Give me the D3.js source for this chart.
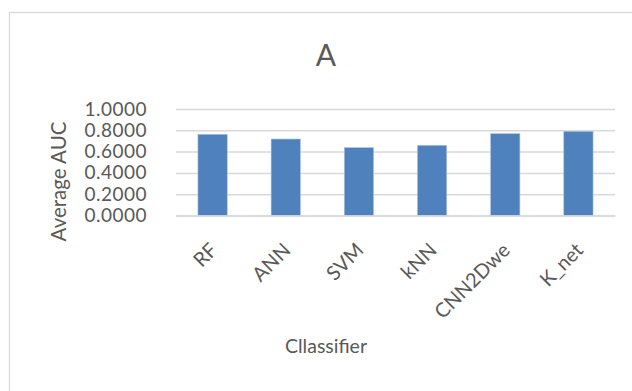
<!DOCTYPE html>
<html>
<head>
<meta charset="utf-8">
<script src="https://cdn.jsdelivr.net/npm/d3@7"></script>
<style>
  html, body { margin: 0; padding: 0; background: #fff; }
  svg { display: block; }
  text { font-family: Lato, "Open Sans", sans-serif; fill: #595959; }
</style>
</head>
<body>
<svg id="chart" width="632" height="391"></svg>
<script>
// Average AUC per classifier
const classifiers = ["RF", "ANN", "SVM", "kNN", "CNN2Dwe", "K_net"];
const avgAUC = [0.762, 0.718, 0.637, 0.659, 0.768, 0.790];
const yTicks = [0, 0.2, 0.4, 0.6, 0.8, 1.0];
const chartTitle = "A";
const xTitle = "Cllassifier";
const yTitle = "Average AUC";

const svg = d3.select("#chart");
const W = 632, H = 391;

// chart frame (continues past the right and bottom edges)
svg.append("rect")
  .attr("x", 9.5).attr("y", 12.5)
  .attr("width", W + 20).attr("height", H + 20)
  .attr("fill", "#fff")
  .attr("stroke", "#d9d9d9").attr("stroke-width", 1.3);

const plot = { left: 176, right: 615, top: 109, bottom: 215.5 };

const x = d3.scaleBand()
  .domain(classifiers)
  .range([plot.left, plot.right])
  .paddingInner(0.6)
  .paddingOuter(0.3);

const y = d3.scaleLinear()
  .domain([0, 1])
  .range([plot.bottom, plot.top]);

// gridlines and value labels
const yAxis = d3.axisLeft(y)
  .tickValues(yTicks)
  .tickSize(-(plot.right - plot.left))
  .tickPadding(29)
  .tickFormat(d3.format(".4f"));

const gy = svg.append("g")
  .attr("transform", `translate(${plot.left},0)`)
  .call(yAxis);
gy.select(".domain").remove();
gy.selectAll(".tick line")
  .attr("stroke", "#d9d9d9").attr("stroke-width", 1.5);
gy.selectAll(".tick text")
  .attr("font-size", 19)
  .attr("letter-spacing", "0.5px")
  .attr("fill", "#595959")
  .style("font-family", "Lato, sans-serif");

// bars
svg.append("g").selectAll("rect")
  .data(classifiers)
  .join("rect")
  .attr("x", d => x(d))
  .attr("width", x.bandwidth())
  .attr("y", (d, i) => y(avgAUC[i]))
  .attr("height", (d, i) => y(0) - y(avgAUC[i]))
  .attr("fill", "#4f81bd")
  .attr("stroke", "#a9c1e0").attr("stroke-width", 0.6);

// category axis
const xAxis = d3.axisBottom(x).tickSize(0).tickPadding(0);
const gx = svg.append("g")
  .attr("transform", `translate(0,${plot.bottom})`)
  .call(xAxis);
gx.select(".domain")
  .attr("stroke", "#d9d9d9").attr("stroke-width", 1.5);
gx.selectAll(".tick text")
  .attr("font-size", 20)
  .attr("fill", "#595959")
  .style("font-family", "Lato, sans-serif")
  .attr("text-anchor", "end")
  .attr("dy", "0.35em")
  .attr("transform", "translate(1,31) rotate(-45)");

// titles
svg.append("text")
  .attr("x", 326).attr("y", 65.5)
  .attr("text-anchor", "middle")
  .attr("font-size", 30)
  .text(chartTitle);

svg.append("text")
  .attr("x", 326).attr("y", 353)
  .attr("text-anchor", "middle")
  .attr("font-size", 19.5)
  .text(xTitle);

svg.append("text")
  .attr("transform", "translate(66,181.5) rotate(-90)")
  .attr("text-anchor", "middle")
  .attr("font-size", 20.5)
  .text(yTitle);
</script>
</body>
</html>
